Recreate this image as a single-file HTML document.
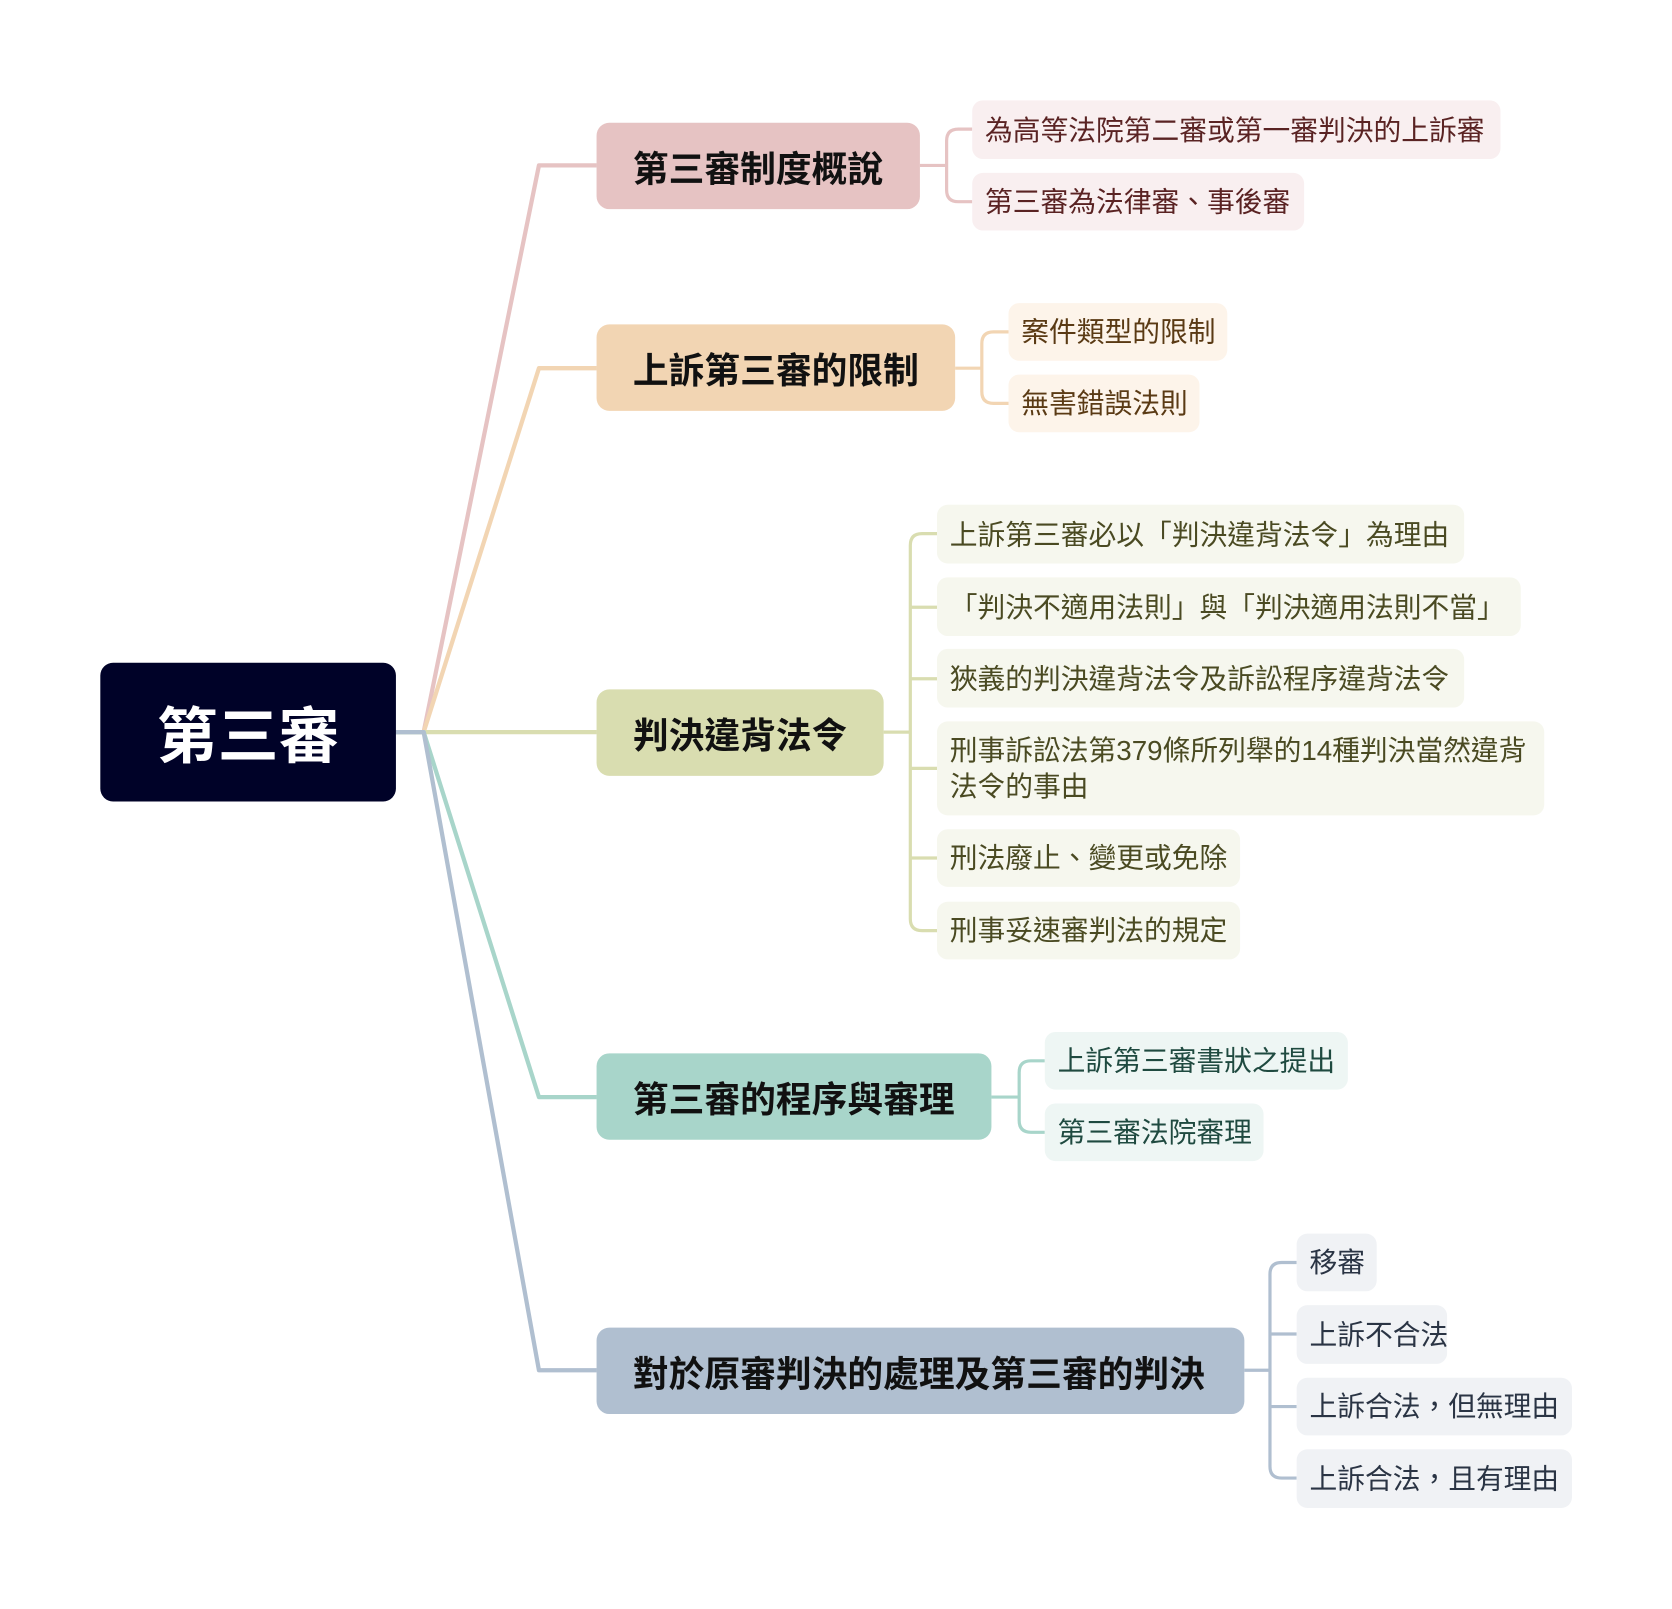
<!DOCTYPE html>
<html><head><meta charset="utf-8"><style>
html,body{margin:0;padding:0;background:#fff;}
body{width:1672px;height:1608px;overflow:hidden;position:relative;}
#c{position:absolute;left:0;top:0;width:1568px;height:1508px;transform:scale(1.0672);transform-origin:0 0;font-family:"Liberation Sans","Noto Sans CJK TC",sans-serif;}
.b{position:absolute;box-sizing:border-box;display:flex;align-items:center;border-radius:12px;white-space:nowrap;}
.root{left:94px;top:621px;width:277px;height:130px;background:#000228;color:#fff;font-size:57px;font-weight:bold;justify-content:center;}
.br{height:81px;font-size:33.5px;font-weight:bold;color:#111;padding-left:34px;}
.lf{font-size:26px;padding-left:12px;border-radius:10px;line-height:34px;}
</style></head><body><div id="c">
<svg width="1568" height="1508" style="position:absolute;left:0;top:0" fill="none" stroke-width="4" stroke-linejoin="round">
<path d="M371 686H397L505 155H559" stroke="#e6c3c3"/>
<path d="M371 686H397L505 345H559" stroke="#f2d5b3"/>
<path d="M371 686H559" stroke="#d9ddb0"/>
<path d="M371 686H397L505 1028H559" stroke="#a8d5ca"/>
<path d="M371 686H397L505 1284H559" stroke="#b0bfd0"/>
<g stroke="#e6c3c3" stroke-width="3"><path d="M862 155H887M887 155V132Q887 121 898 121H911M887 155V178Q887 189 898 189H911"/></g>
<g stroke="#f2d5b3" stroke-width="3"><path d="M895 345H920M920 345V322Q920 311 931 311H945M920 345V367Q920 378 931 378H945"/></g>
<g stroke="#d9ddb0" stroke-width="3"><path d="M828 686H853M853 511Q853 500 864 500H878M853 511V861Q853 872 864 872H878M853 569H878M853 636H878M853 720H878M853 804H878"/></g>
<g stroke="#a8d5ca" stroke-width="3"><path d="M929 1028H955M955 1028V1005Q955 994 966 994H979M955 1028V1050Q955 1061 966 1061H979"/></g>
<g stroke="#b0bfd0" stroke-width="3"><path d="M1166 1284H1190M1190 1194Q1190 1183 1201 1183H1215M1190 1194V1374Q1190 1385 1201 1385H1215M1190 1250H1215M1190 1318H1215"/></g>
</svg>
<div class="b root">第三審</div>
<div class="b br" style="left:559px;top:115px;width:303px;background:#e6c3c3">第三審制度概說</div>
<div class="b br" style="left:559px;top:304px;width:336px;background:#f2d5b3">上訴第三審的限制</div>
<div class="b br" style="left:559px;top:646px;width:269px;background:#d9ddb0">判決違背法令</div>
<div class="b br" style="left:559px;top:987px;width:370px;background:#a8d5ca">第三審的程序與審理</div>
<div class="b br" style="left:559px;top:1244px;width:607px;background:#b0bfd0">對於原審判決的處理及第三審的判決</div>

<div class="b lf" style="left:911px;top:94px;width:495px;height:55px;background:#f9eff0;color:#5a2323">為高等法院第二審或第一審判決的上訴審</div>
<div class="b lf" style="left:911px;top:162px;width:311px;height:54px;background:#f9eff0;color:#5a2323">第三審為法律審、事後審</div>

<div class="b lf" style="left:945px;top:284px;width:205px;height:54px;background:#fdf4ea;color:#5a3a14">案件類型的限制</div>
<div class="b lf" style="left:945px;top:351px;width:179px;height:54px;background:#fdf4ea;color:#5a3a14">無害錯誤法則</div>

<div class="b lf" style="left:878px;top:473px;width:494px;height:55px;background:#f6f7ee;color:#4a4a22">上訴第三審必以「判決違背法令」為理由</div>
<div class="b lf" style="left:878px;top:541px;width:547px;height:55px;background:#f6f7ee;color:#4a4a22">「判決不適用法則」與「判決適用法則不當」</div>
<div class="b lf" style="left:878px;top:608px;width:494px;height:55px;background:#f6f7ee;color:#4a4a22">狹義的判決違背法令及訴訟程序違背法令</div>
<div class="b lf" style="left:878px;top:676px;width:569px;height:88px;background:#f6f7ee;color:#4a4a22">刑事訴訟法第379條所列舉的14種判決當然違背<br>法令的事由</div>
<div class="b lf" style="left:878px;top:777px;width:284px;height:54px;background:#f6f7ee;color:#4a4a22">刑法廢止、變更或免除</div>
<div class="b lf" style="left:878px;top:845px;width:284px;height:54px;background:#f6f7ee;color:#4a4a22">刑事妥速審判法的規定</div>

<div class="b lf" style="left:979px;top:967px;width:284px;height:54px;background:#eef6f4;color:#1f4a40">上訴第三審書狀之提出</div>
<div class="b lf" style="left:979px;top:1034px;width:205px;height:54px;background:#eef6f4;color:#1f4a40">第三審法院審理</div>

<div class="b lf" style="left:1215px;top:1156px;width:75px;height:54px;background:#f0f2f5;color:#2a3444">移審</div>
<div class="b lf" style="left:1215px;top:1223px;width:141px;height:55px;background:#f0f2f5;color:#2a3444">上訴不合法</div>
<div class="b lf" style="left:1215px;top:1291px;width:258px;height:54px;background:#f0f2f5;color:#2a3444">上訴合法，但無理由</div>
<div class="b lf" style="left:1215px;top:1358px;width:258px;height:55px;background:#f0f2f5;color:#2a3444">上訴合法，且有理由</div>
</div></body></html>
